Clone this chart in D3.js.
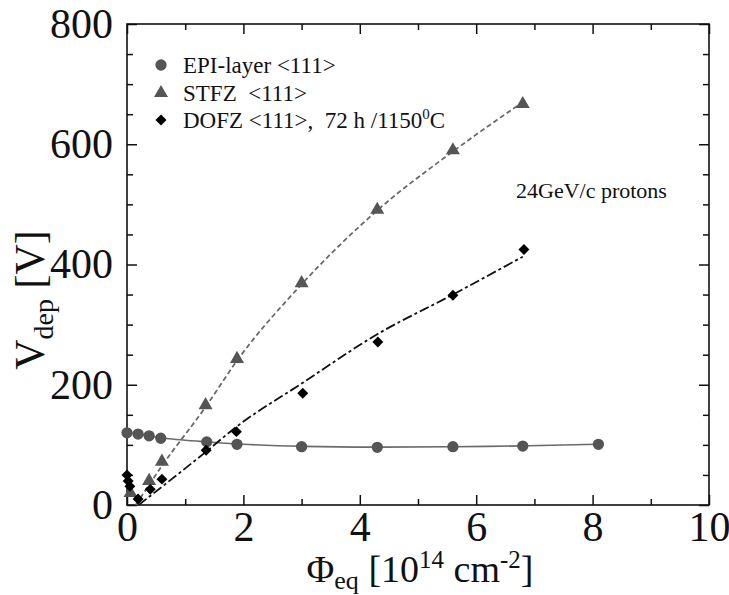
<!DOCTYPE html>
<html><head><meta charset="utf-8">
<script src="https://cdn.jsdelivr.net/npm/d3@7"></script>
<style>
html,body{margin:0;padding:0;background:#fff;}
svg{display:block;}
svg text{font-family:"Liberation Serif","Tinos","Times New Roman","DejaVu Serif",serif !important;}
</style></head>
<body>
<svg id="chart" width="729" height="595"></svg>
<script>
// ---- data ----
const xMajorTicks = [0, 2, 4, 6, 8, 10];
const xMinorTicks = [1, 3, 5, 7, 9];
const yMajorTicks = [0, 200, 400, 600, 800];
const yMinorTicks = [50, 100, 150, 250, 300, 350, 450, 500, 550, 650, 700, 750];

const epiX = [0, 0.19, 0.38, 0.58, 1.37, 1.89, 3.0, 4.3, 5.6, 6.8, 8.1];
const epiY = [120, 118, 115, 111, 105, 101, 97, 96, 97, 98, 101];

const stfzX = [0.06, 0.38, 0.6, 1.35, 1.89, 3.0, 4.3, 5.6, 6.8];
const stfzY = [20, 40, 72, 166, 243, 369, 491, 590, 667];
const stfzFitX = [0.15, 0.6, 1.35, 1.89, 3.0, 4.3, 5.6, 6.8];
const stfzFitY = [0, 65, 163, 240, 367, 490, 588, 670];

const dofzX = [0, 0.02, 0.05, 0.19, 0.4, 0.6, 1.36, 1.88, 3.02, 4.31, 5.6, 6.82];
const dofzY = [50, 40, 31, 10, 26, 43, 91, 122, 186, 271, 349, 425];
const dofzFitX = [0.2, 1.35, 1.88, 3.0, 4.3, 5.6, 6.8];
const dofzFitY = [0, 88, 130, 202, 284, 350, 413];

const legendLabels = ["EPI-layer <111>", "STFZ  <111>", "DOFZ <111>,  72 h /1150"];
const annotation = "24GeV/c protons";

// ---- chart ----
const svg = d3.select("#chart");
const L = 127, R = 709, T = 24, B = 505;
const x = d3.scaleLinear().domain([0, 10]).range([L, R]);
const y = d3.scaleLinear().domain([0, 800]).range([B, T]);

const grayM = "#555555";
const grayL = "#6a6a6a";

function styleAxis(g, showText) {
  g.select(".domain").remove();
  g.selectAll(".tick line").attr("stroke", "#111").attr("stroke-width", 1.5);
  g.selectAll(".tick text").attr("fill", "#111").style("font-size", "42px");
  if (!showText) g.selectAll(".tick text").remove();
}

// bottom
svg.append("g").attr("transform", `translate(0,${B})`)
  .call(d3.axisBottom(x).tickValues(xMajorTicks).tickSize(-10).tickPadding(6).tickFormat(d3.format("d")))
  .call(g => styleAxis(g, true));
svg.append("g").attr("transform", `translate(0,${B})`)
  .call(d3.axisBottom(x).tickValues(xMinorTicks).tickSize(-6).tickFormat(""))
  .call(g => styleAxis(g, false));
// top
svg.append("g").attr("transform", `translate(0,${T})`)
  .call(d3.axisTop(x).tickValues(xMajorTicks).tickSize(-10).tickFormat(""))
  .call(g => styleAxis(g, false));
svg.append("g").attr("transform", `translate(0,${T})`)
  .call(d3.axisTop(x).tickValues(xMinorTicks).tickSize(-6).tickFormat(""))
  .call(g => styleAxis(g, false));
// left
svg.append("g").attr("transform", `translate(${L},0)`)
  .call(d3.axisLeft(y).tickValues(yMajorTicks).tickSize(-10).tickPadding(14).tickFormat(d3.format("d")))
  .call(g => styleAxis(g, true));
svg.append("g").attr("transform", `translate(${L},0)`)
  .call(d3.axisLeft(y).tickValues(yMinorTicks).tickSize(-6).tickFormat(""))
  .call(g => styleAxis(g, false));
// right
svg.append("g").attr("transform", `translate(${R},0)`)
  .call(d3.axisRight(y).tickValues(yMajorTicks).tickSize(-10).tickFormat(""))
  .call(g => styleAxis(g, false));
svg.append("g").attr("transform", `translate(${R},0)`)
  .call(d3.axisRight(y).tickValues(yMinorTicks).tickSize(-6).tickFormat(""))
  .call(g => styleAxis(g, false));

// frame
svg.append("rect").attr("x", L).attr("y", T).attr("width", R - L).attr("height", B - T)
  .attr("fill", "none").attr("stroke", "#111").attr("stroke-width", 1.6);

// lines
const line = d3.line().x(d => x(d[0])).y(d => y(d[1]));
svg.append("path").datum(epiX.map((v, i) => [v, epiY[i]]))
  .attr("d", line.curve(d3.curveBasis)).attr("fill", "none").attr("stroke", grayL).attr("stroke-width", 1.6);
line.curve(d3.curveMonotoneX);
svg.append("path").datum(stfzFitX.map((v, i) => [v, stfzFitY[i]]))
  .attr("d", line).attr("fill", "none").attr("stroke", grayL).attr("stroke-width", 1.8)
  .attr("stroke-dasharray", "5,3");
svg.append("path").datum(dofzFitX.map((v, i) => [v, dofzFitY[i]]))
  .attr("d", line).attr("fill", "none").attr("stroke", "#111").attr("stroke-width", 1.8)
  .attr("stroke-dasharray", "10,3,3,3");

// markers
const circleSym = d3.symbol().type(d3.symbolCircle).size(100);
const triSym = d3.symbol().type(d3.symbolTriangle).size(85);
const diaSym = d3.symbol().type(d3.symbolSquare).size(60);

svg.append("g").selectAll("path").data(epiX.map((v, i) => [v, epiY[i]])).join("path")
  .attr("d", circleSym).attr("transform", d => `translate(${x(d[0])},${y(d[1])})`).attr("fill", grayM);
svg.append("g").selectAll("path").data(stfzX.map((v, i) => [v, stfzY[i]])).join("path")
  .attr("d", triSym).attr("transform", d => `translate(${x(d[0])},${y(d[1])})`).attr("fill", grayM);
svg.append("g").selectAll("path").data(dofzX.map((v, i) => [v, dofzY[i]])).join("path")
  .attr("d", diaSym).attr("transform", d => `translate(${x(d[0])},${y(d[1])}) rotate(45)`).attr("fill", "#000");

// legend
const legY = [65, 93, 120];
const legG = svg.append("g");
legG.append("path").attr("d", circleSym).attr("transform", `translate(161,${legY[0]})`).attr("fill", grayM);
legG.append("path").attr("d", triSym).attr("transform", `translate(161,${legY[1]})`).attr("fill", grayM);
legG.append("path").attr("d", diaSym).attr("transform", `translate(161,${legY[2]}) rotate(45)`).attr("fill", "#000");
legendLabels.forEach((t, i) => {
  const tx = legG.append("text").attr("x", 183).attr("y", legY[i] + 8)
    .style("font-size", "23px").attr("fill", "#111").attr("xml:space", "preserve").text(t);
  if (i === 2) {
    tx.append("tspan").attr("dy", -9).style("font-size", "15px").text("0");
    tx.append("tspan").attr("dy", 9).text("C");
  }
});

// annotation
svg.append("text").attr("x", 516).attr("y", 198).style("font-size", "22px").attr("fill", "#111").text(annotation);

// axis titles
const xt = svg.append("text").attr("x", 420).attr("y", 582).attr("text-anchor", "middle")
  .style("font-size", "38px").attr("fill", "#111");
xt.append("tspan").text("Φ");
xt.append("tspan").attr("dy", 7).style("font-size", "26px").text("eq");
xt.append("tspan").attr("dy", -7).text(" [10");
xt.append("tspan").attr("dy", -14).style("font-size", "25px").text("14");
xt.append("tspan").attr("dy", 14).text(" cm");
xt.append("tspan").attr("dy", -14).style("font-size", "25px").text("-2");
xt.append("tspan").attr("dy", 14).text("]");

const yt = svg.append("text").attr("transform", "translate(44,300) rotate(-90)").attr("text-anchor", "middle")
  .style("font-size", "42px").attr("fill", "#111");
yt.append("tspan").text("V");
yt.append("tspan").attr("dy", 9).style("font-size", "28px").text("dep");
yt.append("tspan").attr("dy", -9).text(" [V]");
</script>
</body></html>
